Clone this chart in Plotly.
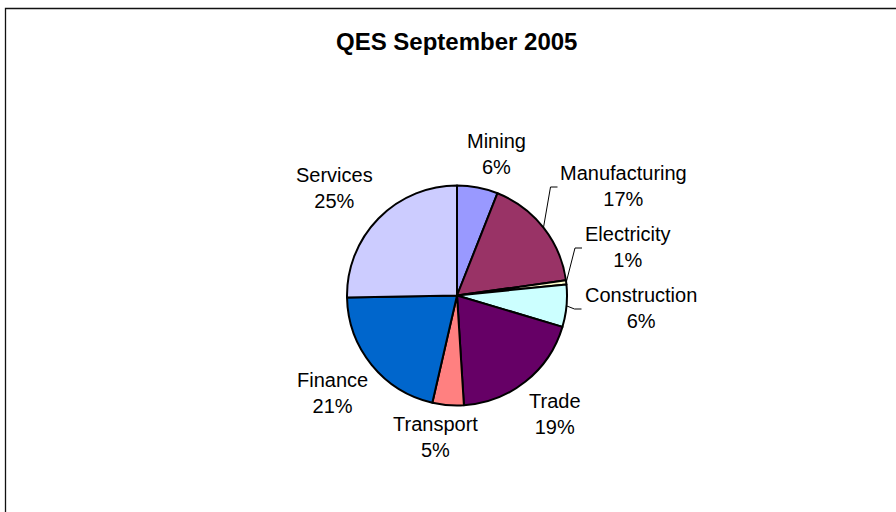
import math
import plotly.graph_objects as go

# ---- data ----
categories = ["Mining", "Manufacturing", "Electricity", "Construction",
              "Trade", "Transport", "Finance", "Services"]
shares = [6.0, 16.8, 0.6, 6.2, 19.4, 4.6, 21.1, 25.3]
colors = ["#9999FF", "#993366", "#FFFFCC", "#CCFFFF",
          "#660066", "#FF8080", "#0066CC", "#CCCCFF"]
title_text = "QES September 2005"

# ---- layout config (pixels) ----
W, H = 896, 512
CX, CY, R = 457, 295.5, 110
# label centres (px) placed like the original chart
label_xy = {
    "Mining": (496, 154),
    "Manufacturing": (623.5, 186),
    "Electricity": (627.5, 247),
    "Construction": (640.5, 308),
    "Trade": (555, 414),
    "Transport": (435, 437),
    "Finance": (332, 393),
    "Services": (334, 188),
}
leader = {"Manufacturing", "Electricity", "Construction"}


def px(x):
    return x / W


def py(y):
    return 1 - y / H


fig = go.Figure(go.Pie(
    labels=categories,
    values=shares,
    sort=False,
    direction="clockwise",
    rotation=0,
    marker=dict(colors=colors, line=dict(color="#000000", width=2)),
    textinfo="none",
    hoverinfo="label+percent",
    domain=dict(x=[px(CX - R), px(CX + R)], y=[py(CY + R), py(CY - R)]),
    showlegend=False,
))

total = sum(shares)
annotations = []
shapes = []
cum = 0.0
for cat, v in zip(categories, shares):
    mid = (cum + v / 2) / total * 2 * math.pi
    cum += v
    pct = round(v / total * 100)
    lx, ly = label_xy[cat]
    annotations.append(dict(
        x=px(lx), y=py(ly), xref="paper", yref="paper",
        text=f"{cat}<br>{pct}%", showarrow=False,
        xanchor="center", yanchor="middle",
        font=dict(family="Liberation Sans, Arial, sans-serif", size=20, color="#000000"),
    ))
    if cat in leader:
        sx = CX + R * math.sin(mid)
        sy = CY - R * math.cos(mid)
        # approximate left edge of label text
        half_w = {"Manufacturing": 63, "Electricity": 42.5, "Construction": 56}[cat]
        ex = lx - half_w - 3
        ey = ly + 1
        path = f"M {px(sx)} {py(sy)} L {px(ex - 7)} {py(ey)} L {px(ex)} {py(ey)}"
        shapes.append(dict(type="path", xref="paper", yref="paper", path=path,
                           line=dict(color="#000000", width=1)))

# chart area border
shapes.append(dict(type="rect", xref="paper", yref="paper",
                   x0=px(5.5), y0=py(530), x1=px(910), y1=py(8.5),
                   line=dict(color="#111111", width=1.3), fillcolor="rgba(0,0,0,0)"))

annotations.append(dict(
    x=px(456), y=py(41.5), xref="paper", yref="paper", text=f"<b>{title_text}</b>",
    showarrow=False, xanchor="center", yanchor="middle",
    font=dict(family="Liberation Sans, Arial, sans-serif", size=24, color="#000000"),
))

fig.update_layout(
    width=W, height=H,
    margin=dict(l=0, r=0, t=0, b=0),
    paper_bgcolor="#FFFFFF",
    plot_bgcolor="#FFFFFF",
    annotations=annotations,
    shapes=shapes,
)

fig.write_html("out.html",
               config={"displayModeBar": False},
               post_script="document.body.style.margin='0';document.body.style.overflow='hidden';")
